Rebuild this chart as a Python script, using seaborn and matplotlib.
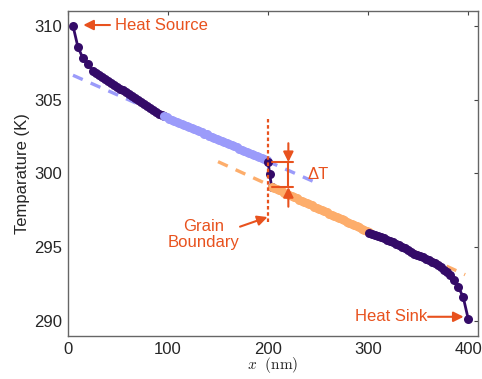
import matplotlib
matplotlib.use("Agg")
import matplotlib.pyplot as plt
import seaborn as sns
import pandas as pd

# data
left_x = [5, 10, 15, 20, 25, 28, 31, 34, 37, 40, 43, 46, 49, 52, 55, 58, 61, 64, 67,
          70, 73, 76, 79, 82, 85, 88, 91, 94, 96]
left_T = [310.0, 308.55, 307.8, 307.4, 306.95, 306.8, 306.66, 306.53, 306.4, 306.27,
          306.14, 306.01, 305.88, 305.75, 305.62, 305.49, 305.35, 305.22, 305.08,
          304.95, 304.82, 304.69, 304.56, 304.43, 304.3, 304.17, 304.05, 303.93, 303.86]

blue_x = [96, 98.5, 101, 103.5, 106, 108.5, 111, 113.5, 116, 118.5, 121, 123.5, 126,
          128.5, 131, 133.5, 136, 138.5, 141, 143.5, 146, 148.5, 151, 153.5, 156,
          158.5, 161, 163.5, 166, 168.5, 171, 173.5, 176, 178.5, 181, 183.5, 186,
          188.5, 191, 193.5, 196, 198.5, 200]
blue_T = [303.86, 303.79, 303.72, 303.63, 303.57, 303.5, 303.42, 303.36, 303.3, 303.21,
          303.14, 303.08, 303.0, 302.92, 302.86, 302.78, 302.7, 302.64, 302.57, 302.48,
          302.42, 302.35, 302.27, 302.2, 302.13, 302.05, 301.98, 301.91, 301.83,
          301.77, 301.69, 301.62, 301.55, 301.47, 301.4, 301.33, 301.25, 301.18,
          301.11, 301.03, 300.96, 300.88, 300.8]

gb_x = [200, 201.7, 203.5]
gb_T = [300.78, 299.95, 299.1]

orange_x = [203.5, 206, 208.5, 211, 213.5, 216, 218.5, 221, 223.5, 226, 228.5, 231,
            233.5, 236, 238.5, 241, 243.5, 246, 248.5, 251, 253.5, 256, 258.5, 261,
            263.5, 266, 268.5, 271, 273.5, 276, 278.5, 281, 283.5, 286, 288.5, 291,
            293.5, 296, 298.5, 301]
orange_T = [299.1, 299.02, 298.94, 298.86, 298.79, 298.7, 298.63, 298.54, 298.47,
            298.39, 298.31, 298.23, 298.15, 298.08, 297.99, 297.92, 297.84, 297.76,
            297.68, 297.6, 297.52, 297.45, 297.37, 297.28, 297.21, 297.13, 297.05,
            296.97, 296.89, 296.82, 296.74, 296.66, 296.58, 296.5, 296.43, 296.35,
            296.27, 296.19, 296.11, 296.02]

right_x = [301, 304, 307, 310, 313, 316, 319, 322, 325, 328, 331, 334, 337, 340, 343,
           346, 349, 352, 355, 358, 361, 364, 367, 370, 373, 376, 379, 382, 386, 390,
           395, 400]
right_T = [296.0, 295.9, 295.82, 295.76, 295.7, 295.62, 295.53, 295.44, 295.35, 295.25,
           295.15, 295.04, 294.93, 294.8, 294.68, 294.57, 294.47, 294.4, 294.32,
           294.24, 294.15, 294.04, 293.92, 293.79, 293.65, 293.5, 293.34, 293.12,
           292.78, 292.33, 291.65, 290.18]

blue_fit_x = [5, 250]
blue_fit_T = [306.65, 299.32]
orange_fit_x = [150, 397]
orange_fit_T = [300.8, 293.15]

dark = "#340b68"
light_blue = "#9b9bfa"
light_orange = "#fdad6b"
accent = "#e8521e"

sns.set_style("white")
plt.rcParams["font.family"] = ["Liberation Sans", "DejaVu Sans"]
plt.rcParams["mathtext.fontset"] = "cm"

fig = plt.figure(figsize=(4.82, 3.79), dpi=100)
ax = fig.add_axes([0.141, 0.1135, 0.851, 0.8575])

# linear fits, drawn behind the data
sns.lineplot(x=blue_fit_x, y=blue_fit_T, ax=ax, color=light_blue, lw=2.4,
             linestyle=(0, (3.2, 2.6)))
sns.lineplot(x=orange_fit_x, y=orange_fit_T, ax=ax, color=light_orange, lw=2.4,
             linestyle=(0, (3.2, 2.6)))

segs = [(left_x, left_T, dark), (blue_x, blue_T, light_blue),
        (gb_x, gb_T, dark), (orange_x, orange_T, light_orange),
        (right_x, right_T, dark)]
for xs, ts, c in segs:
    df = pd.DataFrame({"x": xs, "T": ts})
    sns.lineplot(data=df, x="x", y="T", ax=ax, color=c, lw=2.0, marker="o",
                 markersize=6.5, markeredgewidth=0, sort=False)

ax.set_xlim(0, 410)
ax.set_ylim(289, 311)
ax.set_xticks([0, 100, 200, 300, 400])
ax.set_yticks([290, 295, 300, 305, 310])
ax.tick_params(direction="in", length=3, width=0.8, color="#444444",
               top=True, right=True, labelsize=12, pad=4)
for s in ax.spines.values():
    s.set_color("#666666")
    s.set_linewidth(1.0)
ax.set_xlabel(r"$x\ \ (\mathrm{nm})$", fontsize=11, labelpad=-1)
ax.set_ylabel("Temparature (K)", fontsize=12, labelpad=3)

# annotations
arr = dict(arrowstyle="-|>,head_length=0.6,head_width=0.3", color=accent, lw=1.5,
           shrinkA=0, shrinkB=0)
ax.annotate("", xy=(15.3, 310.05), xytext=(42, 310.05), arrowprops=arr)
ax.text(47, 310.05, "Heat Source", color=accent, fontsize=12, va="center", ha="left")
ax.annotate("", xy=(395.5, 290.3), xytext=(360, 290.3), arrowprops=arr)
ax.text(359, 290.3, "Heat Sink", color=accent, fontsize=12, va="center", ha="right")

ax.plot([200, 200], [296.7, 303.7], color=accent, lw=1.6, linestyle=(0, (1.6, 1.2)))
ax.text(136, 295.85, "Grain\nBoundary", color=accent, fontsize=12, ha="center",
        va="center", linespacing=1.05)
ax.annotate("", xy=(199.5, 297.05), xytext=(172, 296.4), arrowprops=arr)

ax.plot([203.7, 224.7], [300.77, 300.77], color=accent, lw=1.5)
ax.plot([203.7, 224.7], [299.08, 299.08], color=accent, lw=1.5)
ax.plot([220.3, 220.3], [300.77, 299.08], color=accent, lw=1.5)
ax.annotate("", xy=(220.3, 300.77), xytext=(220.3, 302.05), arrowprops=arr)
ax.annotate("", xy=(220.3, 299.08), xytext=(220.3, 297.75), arrowprops=arr)
ax.text(239.5, 299.93, "ΔT", color=accent, fontsize=12, va="center", ha="left")

fig.savefig("out.png", dpi=100)
